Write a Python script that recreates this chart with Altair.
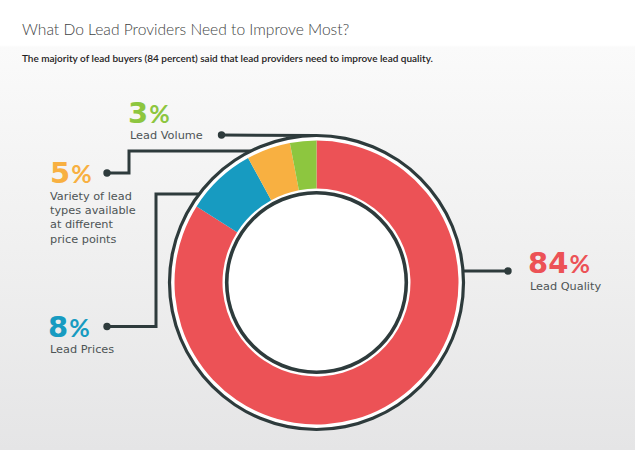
import math
import altair as alt
import pandas as pd

# ---- data -------------------------------------------------------------
categories = ["Lead Quality", "Lead Prices", "Variety", "Lead Volume"]
shares = [84, 8, 5, 3]
label_text = [
    "Lead Quality",
    "Lead Prices",
    "Variety of lead\ntypes available\nat different\nprice points",
    "Lead Volume",
]
colors = ["#EC5256", "#179BC1", "#F8B041", "#8DC63F"]

title_text = "What Do Lead Providers Need to Improve Most?"
subtitle_text = ("The majority of lead buyers (84 percent) said that lead providers "
                 "need to improve lead quality.")

# ---- layout -----------------------------------------------------------
W, H = 635, 450
CX, CY = 316.5, 282.5
R_ARC_OUT, R_ARC_IN = 142, 94       # coloured ring
R_RING_OUT = 147                    # thin dark outline outside
R_RING_IN = 89.8                    # thin dark outline inside
DARK = "#2E3B3C"
TEXT_GREY = "#4D5455"


def ring_x(y, side=-1):
    """x where the outer outline crosses height y (side -1 = left)."""
    return CX + side * math.sqrt(R_RING_OUT ** 2 - (y - CY) ** 2)


# anchor of the percentage (left, baseline) and of the caption below it
anchors = {
    "Lead Quality": (528, 273, 530, 290),
    "Lead Prices": (48, 337, 50, 353),
    "Variety": (50, 183, 50, 200),
    "Lead Volume": (128, 123, 130, 139),
}

connectors = {
    "Lead Volume": [(221.5, 135), (CX, CY - R_RING_OUT)],
    "Variety": [(107, 173), (129, 173), (129, 151), (ring_x(151), 151)],
    "Lead Prices": [(107, 326.5), (156, 326.5), (156, 194), (ring_x(194), 194)],
    "Lead Quality": [(508, 271), (ring_x(271, 1), 271)],
}

df = pd.DataFrame({
    "category": categories,
    "share": shares,
    "order": list(range(len(categories))),
    "label": label_text,
})
df["pct"] = df["share"].astype(str)
df["px"] = [anchors[c][0] for c in categories]
df["py"] = [anchors[c][1] for c in categories]
df["lx"] = [anchors[c][2] for c in categories]
df["ly"] = [anchors[c][3] for c in categories]
DIGIT_W = 20.2
df["sx"] = df["px"] + df["pct"].str.len() * DIGIT_W + 1

line_rows = []
for cat, pts in connectors.items():
    for i, (x, y) in enumerate(pts):
        line_rows.append({"category": cat, "i": i, "x": x, "y": y})
lines_df = pd.DataFrame(line_rows)
dots_df = pd.DataFrame([{"x": pts[0][0], "y": pts[0][1]} for pts in connectors.values()])

xs = alt.Scale(domain=[0, W], range=[0, W])
ys = alt.Scale(domain=[0, H], range=[0, H])
color_scale = alt.Scale(domain=categories, range=colors)
one = pd.DataFrame({"k": [0]})

# ---- marks ------------------------------------------------------------
background = alt.Chart(one).mark_rect(
    color=alt.LinearGradient(
        gradient="linear", x1=0, x2=0, y1=0, y2=1,
        stops=[
            alt.GradientStop(color="#FFFFFF", offset=0),
            alt.GradientStop(color="#FFFFFF", offset=0.1),
            alt.GradientStop(color="#FAFAFA", offset=0.105),
            alt.GradientStop(color="#F0F0F0", offset=0.55),
            alt.GradientStop(color="#E5E5E6", offset=1),
        ],
    )
).encode(x=alt.value(0), x2=alt.value(W), y=alt.value(0), y2=alt.value(H))

white_disc = alt.Chart(one).mark_arc(
    theta=0, theta2=2 * math.pi, radius=R_RING_OUT, radius2=0, fill="#FFFFFF"
).encode(x=alt.value(CX), y=alt.value(CY))

donut = alt.Chart(df).mark_arc(radius=R_ARC_OUT, radius2=R_ARC_IN).encode(
    theta=alt.Theta("share:Q", stack=True),
    order=alt.Order("order:Q"),
    color=alt.Color("category:N", scale=color_scale, legend=None),
    x=alt.value(CX),
    y=alt.value(CY),
)

outer_ring = alt.Chart(one).mark_arc(
    theta=0, theta2=2 * math.pi,
    radius=R_RING_OUT + 1.6, radius2=R_RING_OUT - 1.6, fill=DARK
).encode(x=alt.value(CX), y=alt.value(CY))

inner_ring = alt.Chart(one).mark_arc(
    theta=0, theta2=2 * math.pi,
    radius=R_RING_IN + 1.8, radius2=R_RING_IN - 1.8, fill=DARK
).encode(x=alt.value(CX), y=alt.value(CY))

lines = alt.Chart(lines_df).mark_line(color=DARK, strokeWidth=3, strokeCap="butt").encode(
    x=alt.X("x:Q", scale=xs, axis=None),
    y=alt.Y("y:Q", scale=ys, axis=None),
    detail="category:N",
    order="i:Q",
)

dots = alt.Chart(dots_df).mark_point(filled=True, color=DARK, size=55, opacity=1).encode(
    x=alt.X("x:Q", scale=xs, axis=None),
    y=alt.Y("y:Q", scale=ys, axis=None),
)

pct_num = alt.Chart(df).mark_text(
    font="DejaVu Sans", fontWeight="bold", fontSize=29, align="left", baseline="alphabetic"
).encode(
    x=alt.X("px:Q", scale=xs, axis=None),
    y=alt.Y("py:Q", scale=ys, axis=None),
    text="pct:N",
    color=alt.Color("category:N", scale=color_scale, legend=None),
)

pct_sign = alt.Chart(df).mark_text(
    font="Lato", fontWeight="bold", fontSize=25, align="left", baseline="alphabetic", text="%"
).encode(
    x=alt.X("sx:Q", scale=xs, axis=None),
    y=alt.Y("py:Q", scale=ys, axis=None),
    color=alt.Color("category:N", scale=color_scale, legend=None),
)

captions = alt.Chart(df).mark_text(
    font="DejaVu Sans", fontSize=11.3, align="left", baseline="alphabetic",
    lineBreak="\n", lineHeight=14.2, color=TEXT_GREY,
).encode(
    x=alt.X("lx:Q", scale=xs, axis=None),
    y=alt.Y("ly:Q", scale=ys, axis=None),
    text="label:N",
)

title = alt.Chart(one).mark_text(
    font="Lato", fontWeight=300, fontSize=15.6, align="left", baseline="alphabetic",
    color="#3F4444", text=title_text,
).encode(x=alt.value(22), y=alt.value(35))

subtitle = alt.Chart(one).mark_text(
    font="Lato", fontWeight=600, fontSize=10, align="left", baseline="alphabetic",
    color="#1E2222", text=subtitle_text,
).encode(x=alt.value(22), y=alt.value(61.5))

chart = alt.layer(
    background, white_disc, donut, outer_ring, inner_ring,
    lines, dots, pct_num, pct_sign, captions, title, subtitle,
).properties(
    width=W, height=H, padding=0, autosize=alt.AutoSizeParams(type="none")
).configure_view(stroke=None)

chart.save("out.html", embed_options={"renderer": "svg", "actions": False})
